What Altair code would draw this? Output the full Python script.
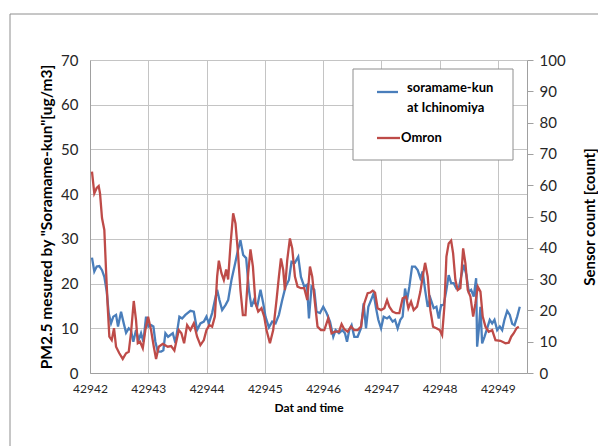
import altair as alt
import pandas as pd

# ---------------- data ----------------
START_DAY = 42942  # Excel serial day at the left edge
x_ticks = [42942, 42943, 42944, 42945, 42946, 42947, 42948, 42949]
left_ticks = [0, 10, 20, 30, 40, 50, 60, 70]
right_ticks = [0, 10, 20, 30, 40, 50, 60, 70, 80, 90, 100]

# soramame-kun at Ichinomiya (left axis, ug/m3); elapsed days since START_DAY
blue_offsets = [
    0.034, 0.074, 0.115, 0.160, 0.206, 0.246, 0.287, 0.321, 0.361, 0.400,
    0.447, 0.481, 0.533, 0.579, 0.619, 0.665, 0.704, 0.744, 0.790, 0.837,
    0.876, 0.916, 0.962, 1.002, 1.048, 1.088, 1.122, 1.163, 1.220, 1.259,
    1.294, 1.340, 1.380, 1.421, 1.466, 1.534, 1.581, 1.637, 1.723, 1.782,
    1.838, 1.895, 1.954, 1.998, 2.040, 2.096, 2.143, 2.182, 2.222, 2.268,
    2.325, 2.371, 2.428, 2.497, 2.543, 2.582, 2.629, 2.680, 2.727, 2.771,
    2.813, 2.869, 2.926, 2.973, 3.012, 3.070, 3.127, 3.184, 3.242, 3.299,
    3.356, 3.414, 3.459, 3.517, 3.574, 3.620, 3.677, 3.723, 3.758, 3.802,
    3.849, 3.888, 3.947, 4.003, 4.060, 4.119, 4.175, 4.215, 4.273, 4.330,
    4.376, 4.411, 4.450, 4.490, 4.536, 4.593, 4.651, 4.696, 4.737, 4.777,
    4.823, 4.868, 4.909, 4.948, 4.995, 5.040, 5.098, 5.137, 5.194, 5.235,
    5.280, 5.326, 5.366, 5.407, 5.442, 5.481, 5.527, 5.579, 5.624, 5.670,
    5.710, 5.751, 5.796, 5.842, 5.899, 5.945, 5.985, 6.026, 6.070, 6.117,
    6.156, 6.198, 6.242, 6.289, 6.328, 6.369, 6.414, 6.460, 6.500, 6.541,
    6.586, 6.627, 6.644, 6.672, 6.701, 6.730, 6.770, 6.816, 6.861, 6.902,
    6.942, 6.988, 7.033, 7.074, 7.113, 7.160, 7.205, 7.246, 7.285, 7.332, 7.376,
]
blue_values = [
    25.8, 22.7, 23.8, 23.9, 23.0, 21.5, 18.2, 13.4, 11.1, 12.6,
    13.0, 10.4, 13.7, 11.1, 9.0, 10.0, 9.5, 7.0, 9.6, 7.4,
    8.9, 7.0, 12.6, 10.4, 10.7, 10.4, 7.0, 4.8, 4.8, 5.1,
    8.9, 8.1, 8.5, 8.9, 6.7, 12.6, 12.2, 13.0, 13.9, 13.7,
    9.6, 11.1, 11.5, 12.6, 11.1, 13.4, 16.3, 18.6, 16.3, 14.1,
    15.2, 16.3, 20.8, 24.9, 27.7, 29.7, 26.4, 25.7, 18.6, 14.8,
    16.3, 14.8, 18.6, 15.6, 12.6, 10.2, 11.5, 11.1, 13.0, 16.3,
    19.3, 20.8, 24.9, 24.7, 26.0, 21.5, 19.3, 19.7, 12.2, 19.3,
    18.6, 13.7, 13.4, 14.8, 13.4, 11.5, 8.1, 9.6, 8.9, 9.6,
    8.9, 7.0, 9.6, 10.7, 8.1, 8.1, 10.0, 15.6, 10.0, 14.8,
    16.3, 17.8, 14.5, 11.9, 10.0, 12.6, 12.2, 12.6, 11.5, 11.9,
    10.0, 11.9, 12.6, 18.9, 16.3, 19.3, 23.8, 23.8, 23.0, 21.2,
    22.7, 18.6, 14.8, 16.7, 14.5, 14.8, 12.2, 15.2, 15.2, 18.6,
    21.9, 20.1, 20.1, 18.9, 18.9, 21.5, 24.2, 21.9, 18.2, 18.6,
    17.1, 21.2, 5.9, 9.6, 14.8, 6.6, 8.1, 10.0, 11.9, 11.1,
    11.9, 9.6, 10.4, 9.6, 11.9, 13.9, 13.0, 11.0, 10.7, 12.6, 14.8,
]

# Omron sensor (right axis, count)
red_offsets = [
    0.034, 0.074, 0.115, 0.149, 0.172, 0.206, 0.246, 0.275, 0.304, 0.332,
    0.373, 0.412, 0.447, 0.503, 0.562, 0.619, 0.665, 0.704, 0.751, 0.790,
    0.820, 0.859, 0.906, 0.950, 0.997, 1.048, 1.095, 1.134, 1.180, 1.249,
    1.335, 1.392, 1.448, 1.524, 1.569, 1.615, 1.667, 1.723, 1.782, 1.838,
    1.895, 1.954, 1.998, 2.050, 2.096, 2.143, 2.182, 2.211, 2.256, 2.297,
    2.337, 2.371, 2.411, 2.457, 2.497, 2.538, 2.582, 2.624, 2.668, 2.715,
    2.754, 2.796, 2.840, 2.887, 2.943, 2.990, 3.029, 3.088, 3.144, 3.201,
    3.242, 3.277, 3.316, 3.345, 3.385, 3.431, 3.471, 3.517, 3.562, 3.620,
    3.677, 3.729, 3.775, 3.814, 3.861, 3.905, 3.964, 4.021, 4.089, 4.146,
    4.204, 4.273, 4.318, 4.364, 4.421, 4.479, 4.536, 4.593, 4.651, 4.708,
    4.765, 4.811, 4.851, 4.892, 4.936, 4.995, 5.052, 5.098, 5.137, 5.194,
    5.253, 5.309, 5.366, 5.424, 5.464, 5.510, 5.555, 5.613, 5.670, 5.710,
    5.751, 5.796, 5.842, 5.888, 5.945, 6.002, 6.043, 6.082, 6.117, 6.156,
    6.198, 6.232, 6.271, 6.311, 6.357, 6.404, 6.443, 6.483, 6.529, 6.576,
    6.615, 6.655, 6.701, 6.740, 6.787, 6.843, 6.902, 6.959, 7.045, 7.131,
    7.187, 7.229, 7.273, 7.320, 7.359,
]
red_values = [
    64.3, 57.4, 59.1, 59.7, 57.4, 49.5, 45.7, 32.9, 21.2, 11.6,
    10.5, 14.3, 8.4, 6.3, 4.5, 6.3, 6.8, 12.8, 23.0, 16.9,
    9.5, 10.0, 7.9, 13.7, 18.0, 13.7, 8.4, 4.5, 8.4, 9.3,
    8.4, 8.6, 7.2, 13.7, 12.7, 9.5, 15.3, 13.7, 15.9, 11.6,
    8.9, 10.5, 13.7, 15.3, 14.8, 18.0, 30.8, 35.9, 31.9, 29.7,
    33.1, 29.9, 40.9, 51.0, 47.8, 38.8, 26.5, 18.5, 18.5, 31.9,
    39.5, 34.0, 22.3, 19.6, 20.7, 18.0, 13.7, 9.5, 13.7, 23.3,
    30.8, 36.6, 32.9, 26.5, 36.1, 43.0, 39.8, 30.8, 27.6, 27.1,
    27.1, 23.3, 34.0, 30.8, 22.3, 14.8, 13.7, 13.7, 17.5, 12.7,
    13.2, 13.2, 15.6, 14.0, 13.2, 14.8, 13.7, 13.7, 14.8, 22.3,
    25.5, 25.7, 26.3, 25.7, 20.7, 20.1, 20.7, 23.3, 21.2, 19.6,
    19.1, 19.1, 23.9, 24.4, 20.7, 22.8, 20.1, 21.2, 26.0, 30.8,
    35.2, 30.8, 20.0, 14.8, 14.3, 13.7, 12.1, 21.2, 37.2, 41.4,
    42.3, 38.2, 29.7, 26.5, 27.1, 39.8, 35.0, 26.5, 24.4, 18.0,
    22.3, 27.6, 26.0, 18.0, 14.8, 13.2, 13.7, 10.5, 10.3, 9.5,
    9.7, 11.6, 12.7, 14.3, 14.8,
]

legend_labels = ["soramame-kun", "at Ichinomiya", "Omron"]
x_title = "Dat and time"
left_title = 'PM2.5 mesured by "Soramame-kun"[ug/m3]'
right_title = "Sensor count [count]"

# ---------------- chart ----------------
FONT = "Lato"
BLUE = "#4a7ebb"
RED = "#be4b48"
GRID = "#c4c4c4"
AXISC = "#a0a0a0"
TXT = "#262626"

blue_df = pd.DataFrame({"day": [START_DAY + o for o in blue_offsets], "pm": blue_values})
red_df = pd.DataFrame({"day": [START_DAY + o for o in red_offsets], "cnt": red_values})
one = pd.DataFrame({"k": [0]})

x_enc = alt.X(
    "day:Q",
    scale=alt.Scale(domain=[42942, 42949.5], nice=False, zero=False),
    axis=alt.Axis(
        values=x_ticks, format="d", title=x_title, grid=True, gridColor=GRID,
        ticks=False, labelFlush=False, labelFontSize=12, labelColor=TXT,
        labelFont=FONT, labelPadding=10, titleFont=FONT, titleFontSize=12,
        titleFontWeight="bold", titleColor="black", titlePadding=8,
        domainColor=AXISC,
    ),
)

blue_line = alt.Chart(blue_df).mark_line(color=BLUE, strokeWidth=2.3).encode(
    x=x_enc,
    y=alt.Y(
        "pm:Q",
        scale=alt.Scale(domain=[0, 70], nice=False),
        axis=alt.Axis(
            orient="left", values=left_ticks, title=left_title, grid=True,
            gridColor=GRID, ticks=False, labelFontSize=15, labelFont=FONT,
            labelColor=TXT, labelPadding=12, titleFont=FONT, titleFontSize=15.5,
            titleFontWeight="bold", titleColor="black", titlePadding=6,
            domainColor=AXISC,
        ),
    ),
)

red_line = alt.Chart(red_df).mark_line(color=RED, strokeWidth=2.3).encode(
    x=x_enc,
    y=alt.Y(
        "cnt:Q",
        scale=alt.Scale(domain=[0, 100], nice=False),
        axis=alt.Axis(
            orient="right", values=right_ticks, title=right_title, grid=False,
            tickSize=6, tickColor=AXISC, labelFontSize=15, labelFont=FONT,
            labelColor=TXT, labelPadding=6, titleFont=FONT, titleFontSize=15,
            titleFontWeight="bold", titleColor="black", titlePadding=32,
            titleAngle=270, titleBaseline="bottom", domainColor=AXISC,
        ),
    ),
)

# outer chart frame (decoration)
frame = alt.Chart(one).mark_rect(fillOpacity=0, stroke="#8e8e8e", strokeWidth=1).encode(
    x=alt.value(-80), x2=alt.value(640), y=alt.value(-46), y2=alt.value(500)
)

# manual legend box
leg_box = alt.Chart(one).mark_rect(fill="white", stroke="#8e8e8e", strokeWidth=1).encode(
    x=alt.value(263), x2=alt.value(423), y=alt.value(9), y2=alt.value(100)
)
leg_blue = alt.Chart(one).mark_rule(color=BLUE, strokeWidth=2.3).encode(
    x=alt.value(287), x2=alt.value(308), y=alt.value(32)
)
leg_red = alt.Chart(one).mark_rule(color=RED, strokeWidth=2.3).encode(
    x=alt.value(287), x2=alt.value(310), y=alt.value(78)
)
txt_kw = dict(align="left", baseline="middle", font=FONT, fontSize=13,
              fontWeight="bold", color="black")
leg_t1 = alt.Chart(one).mark_text(text=legend_labels[0], **txt_kw).encode(
    x=alt.value(317), y=alt.value(28))
leg_t2 = alt.Chart(one).mark_text(text=legend_labels[1], **txt_kw).encode(
    x=alt.value(317), y=alt.value(48))
leg_t3 = alt.Chart(one).mark_text(text=legend_labels[2], **txt_kw).encode(
    x=alt.value(311), y=alt.value(78))

chart = (
    alt.layer(blue_line, red_line, frame, leg_box, leg_blue, leg_red, leg_t1, leg_t2, leg_t3)
    .resolve_scale(y="independent")
    .properties(
        width=437,
        height=313,
        autosize=alt.AutoSizeParams(type="none"),
        padding={"left": 82, "top": 52, "right": 71, "bottom": 73},
        background="white",
    )
    .configure_view(strokeWidth=0)
)

chart.save("out.html", embed_options={"renderer": "svg", "actions": False})
